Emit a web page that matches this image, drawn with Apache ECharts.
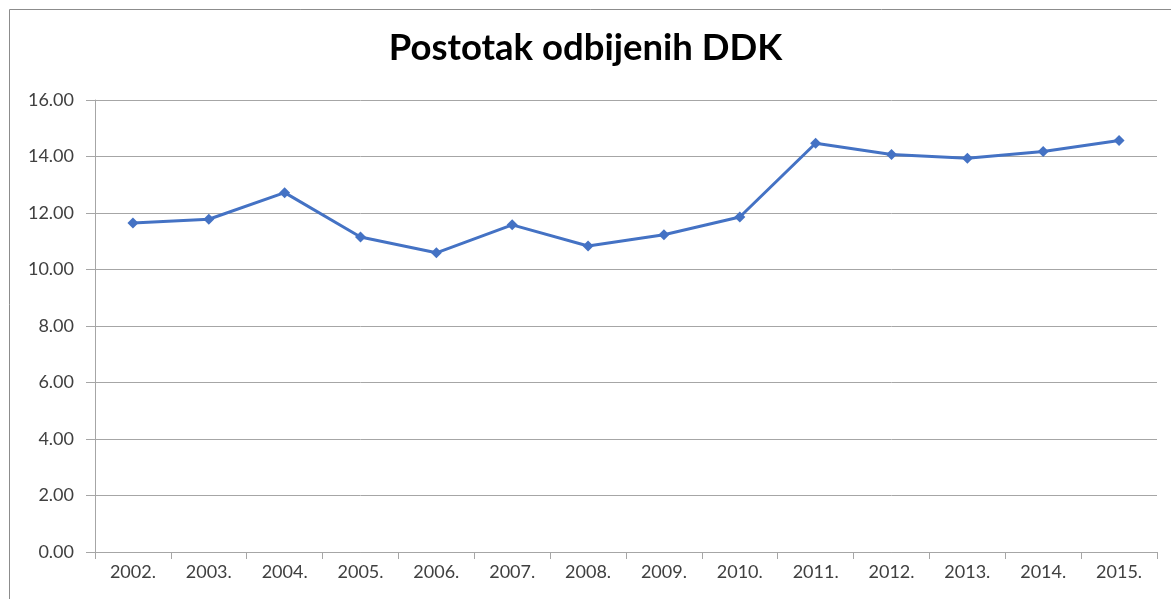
<!DOCTYPE html>
<html>
<head>
<meta charset="utf-8">
<script src="https://cdn.jsdelivr.net/npm/echarts@6/dist/echarts.min.js"></script>
<style>
html,body{margin:0;padding:0;background:#fff;}
#main{width:1171px;height:599px;}
</style>
</head>
<body>
<div id="main"></div>
<script>
const titleText = 'Postotak odbijenih DDK';
const categories = ['2002.','2003.','2004.','2005.','2006.','2007.','2008.','2009.','2010.','2011.','2012.','2013.','2014.','2015.'];
const values = [11.65, 11.78, 12.72, 11.15, 10.59, 11.58, 10.83, 11.23, 11.86, 14.47, 14.07, 13.94, 14.18, 14.57];
const yTicks = [0, 2, 4, 6, 8, 10, 12, 14, 16];

const chart = echarts.init(document.getElementById('main'), null, {renderer:'canvas'});
chart.setOption({
  animation: false,
  backgroundColor: '#ffffff',
  graphic: [{
    type: 'rect',
    silent: true,
    z: -10,
    shape: {x: 9.5, y: 9.5, width: 1300, height: 800},
    style: {fill: 'none', stroke: '#8c8c8c', lineWidth: 1}
  }],
  title: {
    text: titleText,
    left: 'center',
    top: 25,
    textStyle: {fontFamily: 'Lato', fontWeight: 'bold', fontSize: 36.5, color: '#000000'}
  },
  grid: {left: 95, right: 14, top: 100, bottom: 47, containLabel: false},
  xAxis: {
    type: 'category',
    data: categories,
    boundaryGap: true,
    axisLine: {show: true, lineStyle: {color: '#a6a6a6', width: 1}},
    axisTick: {show: true, length: 7, lineStyle: {color: '#a6a6a6'}},
    axisLabel: {fontFamily: 'Lato', fontSize: 18, color: '#404040', margin: 11}
  },
  yAxis: {
    type: 'value',
    min: yTicks[0],
    max: yTicks[yTicks.length - 1],
    interval: 2,
    axisLine: {show: true, lineStyle: {color: '#a6a6a6', width: 1}},
    axisTick: {show: true, length: 9, lineStyle: {color: '#a6a6a6'}},
    axisLabel: {fontFamily: 'Lato', fontSize: 18, color: '#404040', margin: 21,
      formatter: v => v.toFixed(2)},
    splitLine: {show: true, lineStyle: {color: '#a6a6a6', width: 1}}
  },
  series: [{
    type: 'line',
    data: values,
    symbol: 'diamond',
    symbolSize: 11,
    lineStyle: {color: '#4472C4', width: 3},
    itemStyle: {color: '#4472C4'}
  }]
});
</script>
</body>
</html>
